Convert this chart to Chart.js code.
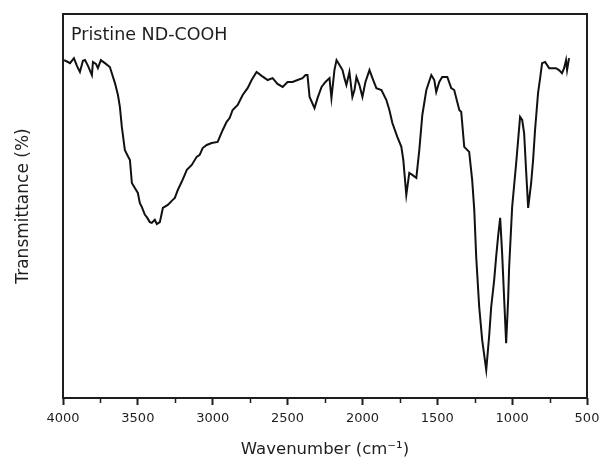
<!DOCTYPE html>
<html>
<head>
<meta charset="utf-8">
<script src="https://cdn.jsdelivr.net/npm/chart.js@4.4.1/dist/chart.umd.min.js"></script>
<style>
  html, body { margin: 0; padding: 0; background: #ffffff; }
  #wrap { width: 600px; height: 461px; position: relative; }
</style>
</head>
<body>
<div id="wrap"><canvas id="c" width="600" height="461"></canvas></div>
<script>
// Wavenumber (cm^-1)
const wavenumbers = [
  3993, 3967, 3953, 3927, 3907, 3887, 3867, 3853, 3833, 3807, 3800, 3780, 3767, 3747, 3720,
  3687, 3653, 3633, 3620, 3607, 3587, 3567, 3553, 3540, 3520, 3500, 3487, 3473, 3453, 3440,
  3420, 3407, 3387, 3373, 3353, 3333, 3300, 3267, 3253, 3233, 3207, 3187, 3173, 3140, 3107,
  3087, 3067, 3040, 3007, 2967, 2933, 2907, 2887, 2867, 2833, 2800, 2767, 2740, 2707, 2673,
  2633, 2600, 2567, 2533, 2500, 2467, 2433, 2400, 2380, 2367, 2353, 2320, 2300, 2273, 2247,
  2220, 2207, 2187, 2173, 2153, 2133, 2120, 2107, 2087, 2067, 2053, 2040, 2020, 2000, 1980,
  1953, 1933, 1907, 1873, 1840, 1820, 1800, 1767, 1740, 1727, 1707, 1687, 1667, 1640, 1620,
  1600, 1573, 1540, 1520, 1507, 1487, 1467, 1433, 1407, 1387, 1353, 1340, 1320, 1287, 1267,
  1253, 1240, 1220, 1200, 1173, 1153, 1140, 1120, 1107, 1093, 1080, 1067, 1053, 1040, 1027,
  1020, 1000, 973, 947, 933, 920, 907, 893, 873, 860, 847, 827, 813, 800, 780,
  753, 733, 707, 687, 667, 653, 640, 633, 620
];
// Transmittance (arbitrary %, axis has no numeric labels)
const transmittance = [
  88.0, 87.5, 87.2, 88.5, 86.5, 84.9, 87.8, 88.0, 86.5, 84.1, 87.5, 87.0, 85.9, 88.0, 87.2,
  86.2, 82.0, 78.9, 75.8, 70.6, 64.6, 63.0, 62.0, 56.0, 54.7, 53.4, 50.8, 49.7, 47.7, 47.1,
  45.8, 45.6, 46.4, 45.3, 45.8, 49.5, 50.3, 51.6, 52.1, 54.2, 56.3, 58.1, 59.4, 60.7, 62.8,
  63.3, 65.1, 65.9, 66.4, 66.7, 69.8, 71.9, 72.9, 75.0, 76.3, 78.9, 80.7, 82.8, 84.9, 83.9,
  82.8, 83.3, 81.8, 81.0, 82.3, 82.3, 82.8, 83.3, 84.1, 84.1, 78.4, 75.5, 78.1, 81.0, 82.3,
  83.3, 78.1, 85.4, 88.0, 86.7, 85.4, 83.3, 81.5, 84.9, 78.4, 80.2, 83.6, 81.5, 78.4, 82.3,
  85.4, 83.3, 80.7, 80.2, 77.6, 75.0, 71.6, 68.0, 65.4, 62.0, 52.9, 58.6, 58.1, 57.3, 64.6,
  73.7, 80.2, 84.1, 82.8, 79.7, 82.3, 83.6, 83.6, 80.7, 80.2, 75.0, 74.5, 65.4, 64.1, 56.8,
  49.0, 36.7, 23.7, 15.1, 7.3, 16.4, 23.7, 30.7, 36.7, 42.4, 46.9, 37.8, 25.5, 14.3, 25.5,
  34.1, 49.7, 61.2, 73.2, 72.4, 69.0, 59.4, 49.5, 56.0, 62.0, 69.8, 79.4, 83.3, 87.2, 87.5,
  85.9, 85.9, 85.9, 85.4, 84.6, 85.9, 88.0, 85.4, 88.5
];
const xMajorTicks = [4000, 3500, 3000, 2500, 2000, 1500, 1000, 500];
const xMinorTicks = [3750, 3250, 2750, 2250, 1750, 1250, 750];
const sampleLabel = 'Pristine ND-COOH';
const xTitle = 'Wavenumber (cm\u207B\u00B9)';
const yTitle = 'Transmittance (%)';

const INK = '#1e1e1e';
const FONT = "'DejaVu Sans', 'Liberation Sans', Arial, sans-serif";

const points = wavenumbers.map((w, i) => ({ x: w, y: transmittance[i] }));

const framePlugin = {
  id: 'frame',
  afterDraw(chart) {
    const { ctx, chartArea: a, scales } = chart;
    ctx.save();
    // box frame
    ctx.strokeStyle = INK;
    ctx.lineWidth = 2;
    ctx.strokeRect(a.left, a.top, a.right - a.left, a.bottom - a.top);
    // minor ticks
    ctx.lineWidth = 1.5;
    ctx.beginPath();
    xMinorTicks.forEach(v => {
      const px = Math.round(scales.x.getPixelForValue(v)) + 0.5;
      ctx.moveTo(px, a.bottom);
      ctx.lineTo(px, a.bottom + 5);
    });
    ctx.stroke();
    // sample label
    ctx.fillStyle = INK;
    ctx.font = '17.5px ' + FONT;
    ctx.textBaseline = 'middle';
    ctx.textAlign = 'left';
    ctx.fillText(sampleLabel, a.left + 8, a.top + 21);
    ctx.restore();
  }
};

new Chart(document.getElementById('c'), {
  type: 'line',
  data: {
    datasets: [{
      data: points,
      borderColor: '#111111',
      borderWidth: 2,
      pointRadius: 0,
      tension: 0,
      fill: false
    }]
  },
  options: {
    responsive: false,
    animation: false,
    layout: { padding: { top: 14, right: 13, left: 0, bottom: 0 } },
    plugins: { legend: { display: false }, tooltip: { enabled: false } },
    scales: {
      x: {
        type: 'linear',
        reverse: true,
        min: 500,
        max: 4000,
        afterBuildTicks(scale) { scale.ticks = xMajorTicks.map(v => ({ value: v })); },
        afterFit(scale) {
          scale.height = 63;
          scale.paddingLeft = 0;
          scale.paddingRight = 0;
        },
        border: { display: false },
        grid: {
          drawOnChartArea: false,
          drawTicks: true,
          tickLength: 7,
          tickWidth: 2,
          tickColor: INK
        },
        ticks: {
          autoSkip: false,
          maxRotation: 0,
          padding: 6,
          color: INK,
          font: { family: FONT, size: 13 },
          callback: v => String(v)
        },
        title: {
          display: true,
          text: xTitle,
          color: INK,
          font: { family: FONT, size: 16.5 },
          padding: { top: 0, bottom: 1 }
        }
      },
      y: {
        min: 0,
        max: 100,
        afterFit(scale) { scale.width = 63; },
        border: { display: false },
        grid: { display: false, drawTicks: false },
        ticks: { display: false },
        title: {
          display: true,
          text: yTitle,
          color: INK,
          font: { family: FONT, size: 17 },
          padding: { top: 13, bottom: 0 }
        }
      }
    }
  },
  plugins: [framePlugin]
});
</script>
</body>
</html>
